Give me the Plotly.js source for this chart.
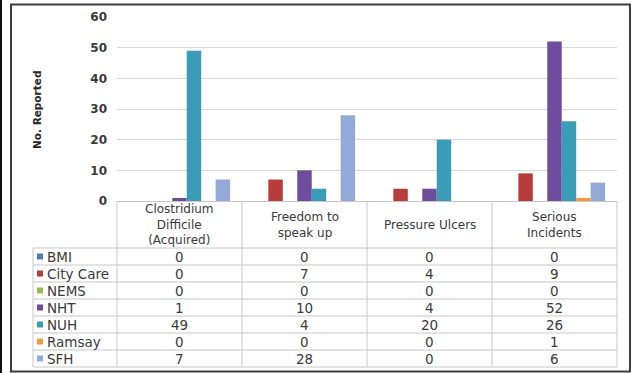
<!DOCTYPE html>
<html>
<head>
<meta charset="utf-8">
<script src="https://cdn.plot.ly/plotly-3.0.1.min.js"></script>
<style>html,body{margin:0;padding:0;background:#fff;}#chart{width:631px;height:373px;}</style>
</head>
<body>
<div id="chart"></div>
<script>
// ---- data ----
const categories = ['Clostridium<br>Difficile<br>(Acquired)', 'Freedom to<br>speak up', 'Pressure Ulcers', 'Serious<br>Incidents'];
const seriesNames = ['BMI', 'City Care', 'NEMS', 'NHT', 'NUH', 'Ramsay', 'SFH'];
const BMI      = [0, 0, 0, 0];
const CityCare = [0, 7, 4, 9];
const NEMS     = [0, 0, 0, 0];
const NHT      = [1, 10, 4, 52];
const NUH      = [49, 4, 20, 26];
const Ramsay   = [0, 0, 0, 1];
const SFH      = [7, 28, 0, 6];
const yTicks   = [0, 10, 20, 30, 40, 50, 60];
const yTitle   = 'No. Reported';

// ---- styles ----
const seriesValues = [BMI, CityCare, NEMS, NHT, NUH, Ramsay, SFH];
const seriesColors = ['#4A7EBB', '#B83C3C', '#98B954', '#6E4C9E', '#3A9CB6', '#F29A3C', '#93AAD9'];
const FONT = 'DejaVu Sans';
const TXT = '#3a3a3a';
const GRID = '#D9D9D9';
const BORDER = '#C8C8C8';

// geometry (pixels)
const W = 631, H = 373;
const L = 117, R = 617, T = 17, B = 201;
const px = v => (v - L) / (R - L);
const py = v => (B - v) / (B - T);
const headerBottom = 248, rowH = 17, legendLeft = 33;

const xIdx = categories.map((c, i) => i);

const traces = seriesNames.map((name, i) => ({
  type: 'bar',
  name: name,
  x: xIdx,
  y: seriesValues[i],
  marker: {color: seriesColors[i]},
  hoverinfo: 'skip'
}));

const shapes = [];
const annotations = [];

// table grid
const tableBottom = headerBottom + rowH * seriesNames.length;
for (let k = 0; k <= seriesNames.length; k++) {
  const yy = headerBottom + rowH * k;
  shapes.push({type: 'line', xref: 'paper', yref: 'paper', x0: px(legendLeft), x1: px(R), y0: py(yy), y1: py(yy),
    line: {color: BORDER, width: 1}});
}
shapes.push({type: 'line', xref: 'paper', yref: 'paper', x0: px(legendLeft), x1: px(legendLeft), y0: py(headerBottom), y1: py(tableBottom),
  line: {color: BORDER, width: 1}});
for (let c = 0; c <= categories.length; c++) {
  const xx = L + (R - L) * c / categories.length;
  shapes.push({type: 'line', xref: 'paper', yref: 'paper', x0: px(xx), x1: px(xx), y0: py(B), y1: py(tableBottom),
    line: {color: BORDER, width: 1}});
}

// header labels
categories.forEach((cat, ci) => {
  annotations.push({xref: 'x', yref: 'paper', x: ci, y: py((B + headerBottom) / 2 + 0.5), text: cat, showarrow: false,
    xanchor: 'center', yanchor: 'middle', align: 'center', font: {family: FONT, size: 12, color: TXT}});
});

// rows
seriesNames.forEach((name, si) => {
  const yc = headerBottom + rowH * si + rowH / 2;
  shapes.push({type: 'rect', xref: 'paper', yref: 'paper', x0: px(37), x1: px(43), y0: py(yc - 3), y1: py(yc + 3),
    fillcolor: seriesColors[si], line: {width: 0}});
  annotations.push({xref: 'paper', yref: 'paper', x: px(44.5), y: py(yc), text: name, showarrow: false,
    xanchor: 'left', yanchor: 'middle', font: {family: FONT, size: 13.5, color: TXT}});
  seriesValues[si].forEach((v, ci) => {
    annotations.push({xref: 'x', yref: 'paper', x: ci, y: py(yc), text: String(v), showarrow: false,
      xanchor: 'center', yanchor: 'middle', font: {family: FONT, size: 13.5, color: TXT}});
  });
});

// y title
annotations.push({xref: 'paper', yref: 'paper', x: px(37), y: py((T + B) / 2 + 1), text: yTitle, textangle: -90,
  showarrow: false, xanchor: 'center', yanchor: 'middle', font: {family: FONT, size: 10.5, color: '#262626', weight: 'bold'}});

// outer frames
shapes.push({type: 'line', xref: 'paper', yref: 'paper', x0: px(1), x1: px(1), y0: py(0), y1: py(H),
  line: {color: '#111', width: 2}});
shapes.push({type: 'rect', xref: 'paper', yref: 'paper', x0: px(11), x1: px(630), y0: py(4.5), y1: py(371.5),
  line: {color: '#3c3c3c', width: 2}, fillcolor: 'rgba(0,0,0,0)'});

const layout = {
  width: W, height: H,
  margin: {l: L, r: W - R, t: T, b: H - B, pad: 0},
  paper_bgcolor: '#fff', plot_bgcolor: '#fff',
  barmode: 'group', bargap: 0.19, bargroupgap: 0,
  showlegend: false,
  xaxis: {type: 'linear', range: [-0.5, categories.length - 0.5], showticklabels: false, showgrid: false,
    zeroline: false, showline: true, linecolor: BORDER, linewidth: 1, ticks: '', fixedrange: true},
  yaxis: {range: [0, 60], tickvals: yTicks, ticktext: yTicks.map(String), showgrid: true, gridcolor: GRID, gridwidth: 1,
    zeroline: false, showline: false, ticks: '', ticklabelstandoff: 9,
    tickfont: {family: FONT, size: 12, color: '#3a3a3a', weight: 'bold'}, fixedrange: true},
  shapes: shapes,
  annotations: annotations
};

Plotly.newPlot('chart', traces, layout, {staticPlot: true, displayModeBar: false});
</script>
</body>
</html>
